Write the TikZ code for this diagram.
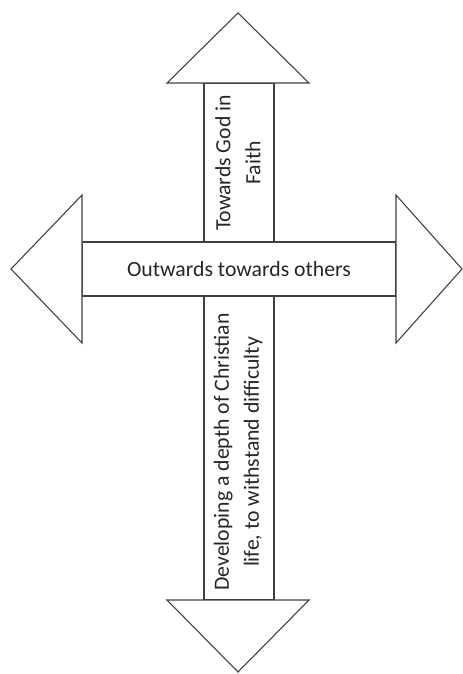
\documentclass[tikz,border=0pt]{standalone}
\usepackage{fontspec}
\setmainfont{Carlito}
\begin{document}
\begin{tikzpicture}[x=0.75pt,y=-0.75pt,
  outline/.style={draw=black!75,line width=0.8pt,fill=white,line join=miter},
  label/.style={font=\fontsize{16.3}{22.5}\selectfont,text=black!85,align=center,inner sep=0pt}]
\useasboundingbox (0,0) rectangle (463,674);
% vertical double arrow (behind)
\path[outline] (204,83) rectangle (274,600);
\path[outline] (167,83) -- (238,13) -- (309,83) -- cycle;
\path[outline] (167,600) -- (238,672) -- (309,600) -- cycle;
% horizontal double arrow (front)
\path[outline] (82,242) rectangle (396,296);
\path[outline] (82,195) -- (11,269) -- (82,343) -- cycle;
\path[outline] (396,195) -- (462,269) -- (396,343) -- cycle;
\node[label] (out) at (239,269) {Outwards towards others};
\node[label,rotate=90] (up) at (238,163) {Towards God in\\Faith};
\node[label,rotate=90] (down) at (238,452) {Developing a depth of Christian\\life, to withstand difficulty};
\end{tikzpicture}
\end{document}
